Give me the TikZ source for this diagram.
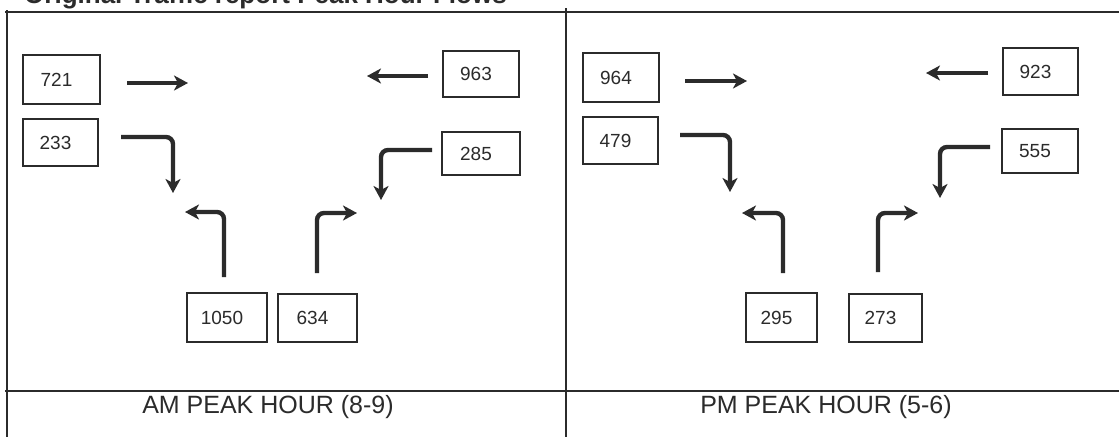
\documentclass[tikz,border=0pt]{standalone}
\usepackage{fontspec}
\setmainfont{Liberation Sans}
\usetikzlibrary{arrows.meta}
\definecolor{ink}{HTML}{2B2B2B}
\begin{document}
\begin{tikzpicture}[x=1pt,y=-1pt,
  frame/.style={draw=ink, line width=2pt},
  box/.style={draw=ink, line width=1.6pt, inner sep=0pt, text=ink,
    font=\fontsize{19}{19}\selectfont, execute at end node={\kern10pt}},
  arr/.style={draw=ink, line width=4.4pt, rounded corners=7pt,
    -{Stealth[length=14pt,width=15pt,inset=4pt]}},
  lbl/.style={anchor=base, text=ink, font=\fontsize{25}{25}\selectfont}]
\useasboundingbox (0,0) rectangle (1119,437);
\clip (0,0) rectangle (1119,437);
\fill[white] (0,0) rectangle (1119,437);
% title (cut off at the top, as in the reference)
\node[anchor=base west, inner sep=0pt, text=ink, font=\bfseries\fontsize{26}{26}\selectfont] (title) at (24,3) {Original Traffic report Peak Hour Flows};
% frame
\draw[frame] (5,12.3) -- (1119,12.3);
\draw[frame] (7.3,10) -- (7.3,437);
\draw[frame] (566,8) -- (566,437);
\draw[frame] (5,390.5) -- (1119,390.5);
% AM boxes
\node[box, minimum width=77pt, minimum height=49pt] (b721) at (61.5,79.5) {721};
\node[box, minimum width=75pt, minimum height=47pt] (b233) at (60.5,142.5) {233};
\node[box, minimum width=76pt, minimum height=46pt] (b963) at (481,74) {963};
\node[box, minimum width=78pt, minimum height=43pt] (b285) at (481,153.5) {285};
\node[box, minimum width=80pt, minimum height=49pt] (b1050) at (227,317.5) {1050};
\node[box, minimum width=79pt, minimum height=48pt] (b634) at (317.5,318) {634};
% PM boxes
\node[box, minimum width=76pt, minimum height=49pt] (b964) at (621,77.5) {964};
\node[box, minimum width=75pt, minimum height=47pt] (b479) at (620.5,140.5) {479};
\node[box, minimum width=75pt, minimum height=47pt] (b923) at (1040.5,71.5) {923};
\node[box, minimum width=76pt, minimum height=44pt] (b555) at (1040,151) {555};
\node[box, minimum width=71pt, minimum height=49pt] (b295) at (781.5,317.5) {295};
\node[box, minimum width=73pt, minimum height=48pt] (b273) at (885.5,318) {273};
% AM arrows
\draw[arr] (127,83) -- (188,83);
\draw[arr] (428,76) -- (367,76);
\draw[arr] (121,137) -| (173,193);
\draw[arr] (432,150) -| (381,200);
\draw[arr] (224,277) |- (185,212);
\draw[arr] (317,273) |- (357,213);
% PM arrows
\draw[arr] (685,81) -- (747,81);
\draw[arr] (988,73) -- (926,73);
\draw[arr] (680,135) -| (730,192);
\draw[arr] (990,147) -| (940,198);
\draw[arr] (783,273) |- (742,213);
\draw[arr] (878,272) |- (918,213);
% labels
\node[lbl] (am) at (268,413) {AM PEAK HOUR (8-9)};
\node[lbl] (pm) at (826,413) {PM PEAK HOUR (5-6)};
\end{tikzpicture}
\end{document}
